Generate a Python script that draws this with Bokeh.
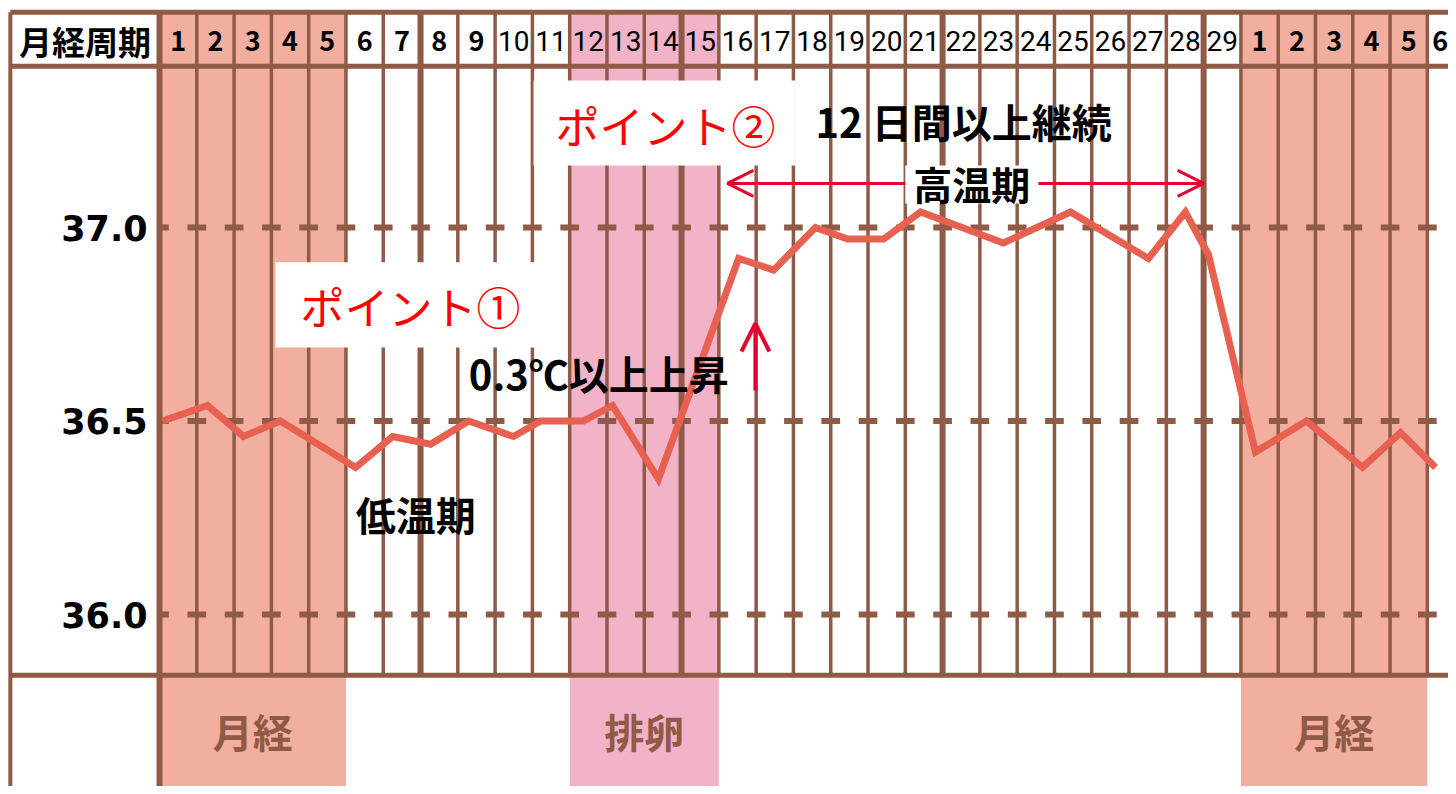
from bokeh.plotting import figure
from bokeh.models import Range1d, Arrow, OpenHead
from bokeh.core.properties import value
from bokeh.embed import file_html
from bokeh.resources import INLINE

# ---------------- data ----------------
header_days = [str(d) for d in range(1, 30)] + [str(d) for d in range(1, 7)]
temp_day = [0.08, 1.29, 2.25, 3.24, 5.26, 6.25, 7.27, 8.29, 9.49, 10.22, 11.37, 12.15, 13.38,
            15.53, 16.47, 17.59, 18.45, 19.42, 20.41, 22.63, 24.43, 26.52, 27.51, 28.13,
            29.39, 30.76, 32.26, 33.28, 34.22]
temp_val = [36.50, 36.54, 36.46, 36.50, 36.38, 36.46, 36.44, 36.50, 36.46, 36.50, 36.50, 36.54, 36.35,
            36.92, 36.89, 37.00, 36.97, 36.97, 37.04, 36.96, 37.04, 36.92, 37.04, 36.93,
            36.42, 36.50, 36.38, 36.47, 36.38]
y_ticks = [36.0, 36.5, 37.0]
y_tick_labels = ["36.0", "36.5", "37.0"]
menses_start = [0, 29]
menses_end = [5, 34]
ovulation_start = [11]
ovulation_end = [15]
phase_names = ["月経", "排卵", "月経"]
phase_start = [0, 11, 29]
phase_end = [5, 15, 34]

# ---------------- layout / style ----------------
COL_PX = 37.29
DEG_PX = 387.0
W, H = 1448, 786
X_LEFT = -4.264
X_RIGHT = X_LEFT + W / COL_PX
Y_TOP = 37.5866
Y_BOTTOM = Y_TOP - H / DEG_PX
FRAME_TOP = 37.556
HEAD_BOT = 37.417
CHART_BOT = 35.843
LABEL_LEFT = -4.0
HEAD_TEXT_Y = 37.483
PHASE_TEXT_Y = 35.698

BROWN = "#8F5A46"
MENSES = "#F2AE9E"
OVUL = "#F2B3C9"
LINE = "#E8604F"
RED = "#FF0000"
ARROW = "#E6002D"
JP = value("Noto Sans CJK JP")

p = figure(width=W, height=H, x_range=Range1d(X_LEFT, X_RIGHT), y_range=Range1d(Y_BOTTOM, Y_TOP),
           x_axis_type=None, y_axis_type=None, toolbar_location=None, output_backend="svg",
           min_border=0, outline_line_color=None, background_fill_color="white",
           border_fill_color="white")
p.grid.visible = False

# phase fills
p.quad(left=menses_start, right=menses_end, top=FRAME_TOP, bottom=Y_BOTTOM,
       fill_color=MENSES, line_color=None)
p.quad(left=ovulation_start, right=ovulation_end, top=FRAME_TOP, bottom=Y_BOTTOM,
       fill_color=OVUL, line_color=None)

# vertical grid
n_cols = len(header_days)
bounds = list(range(0, n_cols + 1))
thin = [k for k in bounds if k % 7 != 0]
thick = [k for k in bounds if k % 7 == 0 and k != 0]
p.segment(x0=thin, x1=thin, y0=FRAME_TOP, y1=CHART_BOT, line_color=BROWN, line_width=3.5)
p.segment(x0=thick, x1=thick, y0=FRAME_TOP, y1=CHART_BOT, line_color=BROWN, line_width=6)
p.segment(x0=[0, LABEL_LEFT], x1=[0, LABEL_LEFT], y0=FRAME_TOP, y1=Y_BOTTOM,
          line_color=BROWN, line_width=[6, 4])

# horizontal borders
p.segment(x0=LABEL_LEFT, x1=X_RIGHT, y0=[FRAME_TOP, HEAD_BOT, CHART_BOT],
          y1=[FRAME_TOP, HEAD_BOT, CHART_BOT], line_color=BROWN, line_width=5)

# dashed reference lines (dashes centred on each column boundary)
dx0, dx1, dy = [], [], []
for t in y_ticks:
    for k in bounds:
        dx0.append(max(k - 0.25, 0))
        dx1.append(k + 0.25)
        dy.append(t)
p.segment(x0=dx0, x1=dx1, y0=dy, y1=dy, line_color=BROWN, line_width=6, line_cap="butt")

# white boxes behind callouts
p.quad(left=[10.03, 3.11, 20.0], right=[17.06, 10.35, 23.57],
       top=[37.380, 36.910, 37.160], bottom=[37.160, 36.690, 37.062],
       fill_color="white", line_color=None)

# temperature line
p.line(temp_day, temp_val, line_color=LINE, line_width=7, line_join="miter")

# header texts (last, partly visible column kept inside the frame)
x_max_label = X_RIGHT - 0.22
one = [i for i, d in enumerate(header_days) if len(d) == 1]
two = [i for i, d in enumerate(header_days) if len(d) == 2]
p.text(x=[min(i + 0.5, x_max_label) for i in one], y=HEAD_TEXT_Y, text=[header_days[i] for i in one],
       text_align="center", text_baseline="middle", text_font=JP, text_font_style="bold",
       text_font_size="27px", text_color="black")
p.text(x=[i + 0.5 for i in two], y=HEAD_TEXT_Y, text=[header_days[i] for i in two],
       text_align="center", text_baseline="middle", text_font=value("Roboto"),
       text_font_size="28px", text_color="black")
p.text(x=[(LABEL_LEFT + 0) / 2], y=HEAD_TEXT_Y, text=["月経周期"], text_align="center",
       text_baseline="middle", text_font=JP, text_font_style="bold", text_font_size="33px",
       text_color="black")

# y tick labels
p.text(x=-0.32, y=y_ticks, text=y_tick_labels, text_align="right", text_baseline="middle",
       text_font=value("DejaVu Sans"), text_font_style="bold", text_font_size="35px",
       text_color="black")

# phase names in bottom row
p.text(x=[(a + b) / 2 for a, b in zip(phase_start, phase_end)], y=PHASE_TEXT_Y, text=phase_names,
       text_align="center", text_baseline="middle", text_font=JP, text_font_style="bold",
       text_font_size="40px", text_color=BROWN)

# callout texts
p.text(x=[13.57, 6.73], y=[37.266, 36.798], text=["ポイント②", "ポイント①"], text_align="center",
       text_baseline="middle", text_font=JP, text_font_size="44px", text_color=RED)
p.text(x=[17.59, 8.29, 5.26], y=[37.276, 36.625, 36.261],
       text=["12 日間以上継続", "0.3℃以上上昇", "低温期"], text_align="left",
       text_baseline="middle", text_font=JP, text_font_style="bold", text_font_size="40px",
       text_color="black")
p.text(x=[21.78], y=[37.114], text=["高温期"], text_align="center", text_baseline="middle",
       text_font=JP, text_font_style="bold", text_font_size="39px", text_color="black")

# arrows
p.add_layout(Arrow(x_start=20.0, y_start=37.114, x_end=15.23, y_end=37.114,
                   end=OpenHead(size=26, line_color=ARROW, line_width=3),
                   line_color=ARROW, line_width=3))
p.add_layout(Arrow(x_start=23.57, y_start=37.114, x_end=28.0, y_end=37.114,
                   end=OpenHead(size=26, line_color=ARROW, line_width=3),
                   line_color=ARROW, line_width=3))
p.add_layout(Arrow(x_start=15.98, y_start=36.579, x_end=15.98, y_end=36.752,
                   end=OpenHead(size=28, line_color=ARROW, line_width=4),
                   line_color=ARROW, line_width=4))

open("out.html", "w").write(file_html(p, INLINE))
